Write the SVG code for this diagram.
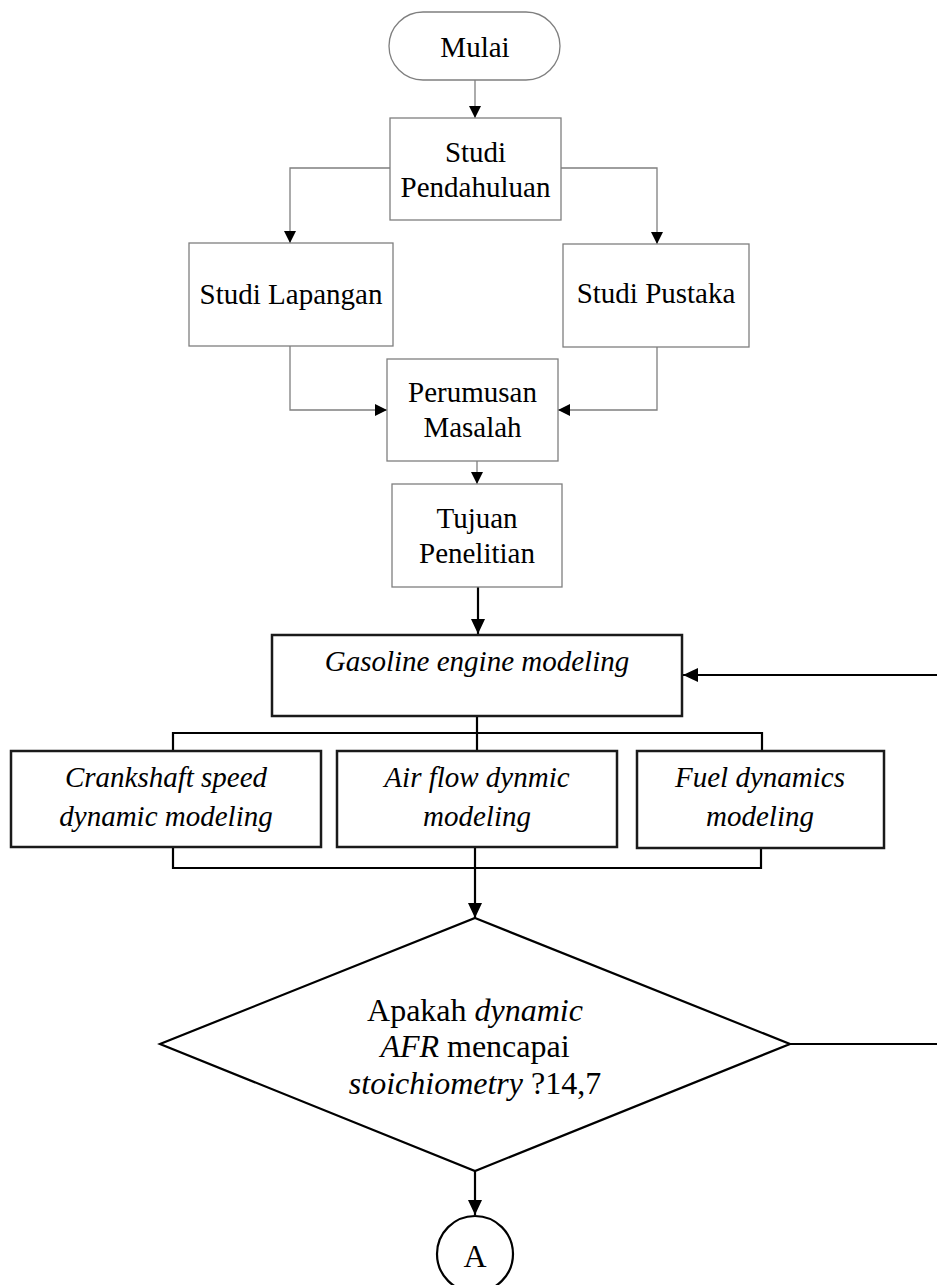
<svg xmlns="http://www.w3.org/2000/svg" width="937" height="1285" viewBox="0 0 937 1285">
<style>
text{font-family:"Liberation Serif","Times New Roman",serif;fill:#000;text-anchor:middle}
.t{font-size:29px}
.i{font-size:29px;font-style:italic}
.d{font-size:32px}
.gbox{fill:#fff;stroke:#7f7f7f;stroke-width:1.3}
.bbox{fill:#fff;stroke:#1a1a1a;stroke-width:2.5}
.gl{fill:none;stroke:#7f7f7f;stroke-width:1.3}
.bl{fill:none;stroke:#000;stroke-width:2.2}
</style>
<defs>
<marker id="ah" markerUnits="userSpaceOnUse" markerWidth="13" markerHeight="13" refX="12" refY="6" orient="auto"><path d="M0,0 L12,6 L0,12 z" fill="#000"/></marker>
<marker id="ahb" markerUnits="userSpaceOnUse" markerWidth="16" markerHeight="15" refX="15" refY="7" orient="auto"><path d="M0,0 L15,7 L0,14 z" fill="#000"/></marker>
</defs>
<rect width="937" height="1285" fill="#fff"/>
<g id="connectors">
<path class="gl" d="M475,80 V118" marker-end="url(#ah)"/>
<path class="gl" d="M390,168 H290 V243" marker-end="url(#ah)"/>
<path class="gl" d="M561,168 H657 V244" marker-end="url(#ah)"/>
<path class="gl" d="M290,346 V410 H387" marker-end="url(#ah)"/>
<path class="gl" d="M657,347 V410 H558" marker-end="url(#ah)"/>
<path class="gl" d="M477,461 V484" marker-end="url(#ah)"/>
<path class="bl" d="M478,587 V634" marker-end="url(#ahb)"/>
<path class="bl" d="M937,675 H683" marker-end="url(#ahb)"/>
<path class="bl" d="M477,716 V733 M173,751 V733 H762 V751 M477,733 V751"/>
<path class="bl" d="M173,848 V868 H761 V848"/>
<path class="bl" d="M475,848 V918" marker-end="url(#ahb)"/>
<path class="bl" d="M790,1044 H937"/>
<path class="bl" d="M475,1171 V1215" marker-end="url(#ahb)"/>
</g>
<g id="mulai"><rect class="gbox" x="389" y="12" width="171" height="68" rx="34"/><text class="t" x="475" y="57">Mulai</text></g>
<g id="studi-pendahuluan"><rect class="gbox" x="390" y="118" width="171" height="102"/><text class="t" x="475.5" y="162">Studi</text><text class="t" x="475.5" y="197">Pendahuluan</text></g>
<g id="studi-lapangan"><rect class="gbox" x="189" y="243" width="204" height="103"/><text class="t" x="291" y="304">Studi Lapangan</text></g>
<g id="studi-pustaka"><rect class="gbox" x="563" y="244" width="186" height="103"/><text class="t" x="656" y="303">Studi Pustaka</text></g>
<g id="perumusan"><rect class="gbox" x="387" y="359" width="171" height="102"/><text class="t" x="472.5" y="402">Perumusan</text><text class="t" x="472.5" y="437">Masalah</text></g>
<g id="tujuan"><rect class="gbox" x="392" y="484" width="170" height="103"/><text class="t" x="477" y="528">Tujuan</text><text class="t" x="477" y="563">Penelitian</text></g>
<g id="gasoline"><rect class="bbox" x="272" y="635" width="410" height="81" stroke-width="3"/><text class="i" x="477" y="671">Gasoline engine modeling</text></g>
<g id="crankshaft"><rect class="bbox" x="11" y="751" width="310" height="96"/><text class="i" x="166" y="787">Crankshaft speed</text><text class="i" x="166" y="826">dynamic modeling</text></g>
<g id="airflow"><rect class="bbox" x="337" y="751" width="280" height="96"/><text class="i" x="477" y="787">Air flow dynmic</text><text class="i" x="477" y="826">modeling</text></g>
<g id="fuel"><rect class="bbox" x="637" y="751" width="247" height="97"/><text class="i" x="760" y="787">Fuel dynamics</text><text class="i" x="760" y="826">modeling</text></g>
<g id="decision"><polygon points="475,918 790,1044 475,1171 160,1044" fill="#fff" stroke="#000" stroke-width="2.2"/>
<text class="d" x="475" y="1021">Apakah <tspan font-style="italic">dynamic</tspan></text>
<text class="d" x="475" y="1057"><tspan font-style="italic">AFR</tspan> mencapai</text>
<text class="d" x="475" y="1094"><tspan font-style="italic">stoichiometry</tspan> ?14,7</text></g>
<g id="connector-a"><circle cx="475" cy="1254" r="38" fill="#fff" stroke="#000" stroke-width="2.2"/><text class="d" x="475" y="1267">A</text></g>
</svg>
